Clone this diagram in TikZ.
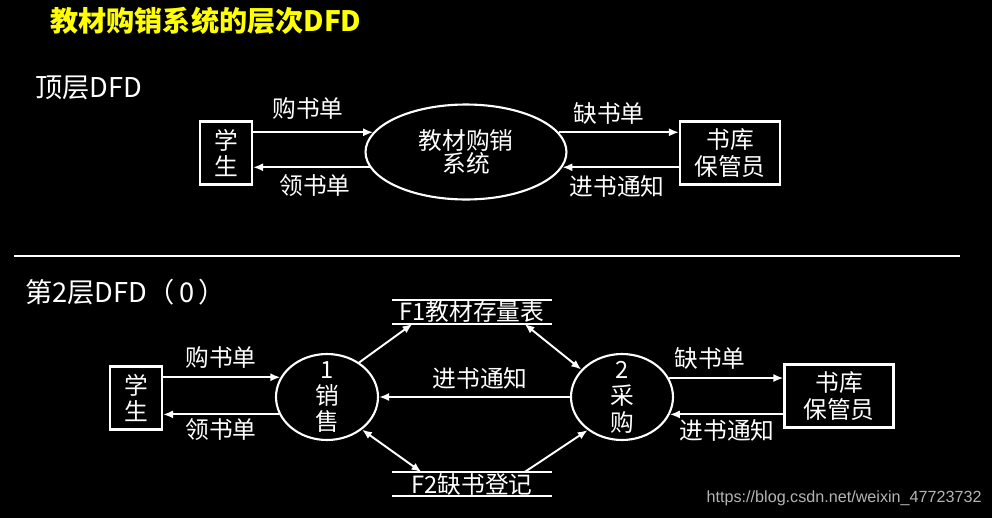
\documentclass[tikz,border=0pt]{standalone}
\usepackage{fontspec}
\setmainfont{Noto Sans CJK SC}
\newfontfamily\marcafont{Liberation Sans}
\usetikzlibrary{arrows.meta,positioning,shapes.geometric}
\definecolor{Titulo}{HTML}{FFFF00}
\definecolor{Marca}{HTML}{B4B4B4}

\begin{document}
\begin{tikzpicture}[
  x=0.02cm,y=-0.02cm,
  color=white,
  font=\fontsize{13.5}{15}\selectfont,
  ente/.style={draw,line width=1.2pt,minimum height=1.26cm,inner sep=0pt,align=center},
  proceso/.style={ellipse,draw,line width=1.2pt,inner sep=0pt,align=center},
  almacen/.style={minimum width=3.18cm,minimum height=0.46cm,inner sep=0pt},
  flujo/.style={-{Latex[length=2mm,width=1.6mm]},line width=1.1pt},
  flujodoble/.style={{Latex[length=2mm,width=1.6mm]}-{Latex[length=2mm,width=1.6mm]},line width=1.1pt},
  rotulo/.style={font=\fontsize{15.5}{17}\selectfont,anchor=west,inner sep=0pt}
]
  \fill[black] (0,0) rectangle (992,518);
  \useasboundingbox (0,0) rectangle (992,518);
  \node[text=Titulo,font=\fontsize{16}{18}\selectfont\bfseries] (titulo) at (206,21) {教材购销系统的层次DFD};

  % 顶层DFD：学生、系统、书库保管员
  \node[rotulo] (cap0) at (35,88) {顶层DFD};
  \node[ente,minimum width=1.04cm] (est0) at (226,153) {学\\生};
  \node[proceso,minimum width=4.02cm,minimum height=1.9cm] (sis) at (466,152) {教材购销\\[-2pt]系统};
  \node[ente,minimum width=2cm] (alm0) at (730,153) {书库\\保管员};
  \draw[flujo] (est0.east |- sis.168) -- (sis.168);
  \draw[flujo] (sis.189) -- (est0.east |- sis.189);
  \draw[flujo] (sis.12) -- (alm0.west |- sis.12);
  \draw[flujo] (alm0.west |- sis.351) -- (sis.351);
  \node (l01) at (308,108) {购书单};
  \node (l02) at (315,186) {领书单};
  \node (l03) at (609,113) {缺书单};
  \node (l04) at (617,186) {进书通知};

  \draw[line width=1.7pt] (14,256) -- (960,256);

  % 第2层DFD：销售与采购两个加工，两个数据存储
  \node[rotulo] (cap2) at (25,292) {第2层DFD（\,0\,）};
  \node[ente,minimum width=1.04cm] (est) at (136,398) {学\\生};
  \node[proceso,minimum width=2.04cm,minimum height=1.72cm,
        label={[align=center]center:1\\销\\售}] (p1) at (327,397) {};
  \node[proceso,minimum width=2.04cm,minimum height=1.72cm,
        label={[align=center]center:2\\采\\购}] (p2) at (622,397) {};
  \node[ente,minimum width=2.18cm] (alm) at (839,396) {书库\\保管员};
  \node[almacen] (f1) at (472,312) {F1教材存量表};
  \node[almacen] (f2) at (472,484) {F2缺书登记};
  \draw[line width=1.1pt] (f1.north west) -- (f1.north east) (f1.south west) -- (f1.south east);
  \draw[line width=1.1pt] (f2.north west) -- (f2.north east) (f2.south west) -- (f2.south east);

  \draw[flujo] (est.east |- p1.157) -- (p1.157);
  \draw[flujo] (p1.200) -- (est.east |- p1.200);
  \draw[flujo] (p2.west) -- (p1.east);
  \draw[flujo] (p2.22) -- (alm.west |- p2.22);
  \draw[flujo] (alm.west |- p2.340) -- (p2.340);
  \draw[flujo] (p1.47) -- ([xshift=-1.19cm]f1.south);
  \draw[flujodoble] ([xshift=1.05cm]f1.south) -- (p2.146);
  \draw[flujodoble] (p1.317) -- ([xshift=-1.01cm]f2.north);
  \draw[flujo] ([xshift=1.05cm]f2.north) -- (p2.224);
  \node (l11) at (221,357) {购书单};
  \node (l12) at (221,430) {领书单};
  \node (l13) at (480,378) {进书通知};
  \node (l14) at (710,358) {缺书单};
  \node (l15) at (727,430) {进书通知};

  \node[font=\marcafont\fontsize{9.2}{11}\selectfont,text=Marca,anchor=east,inner sep=0pt] (marca) at (982,498) {https://blog.csdn.net/weixin\_47723732};
\end{tikzpicture}
\end{document}
